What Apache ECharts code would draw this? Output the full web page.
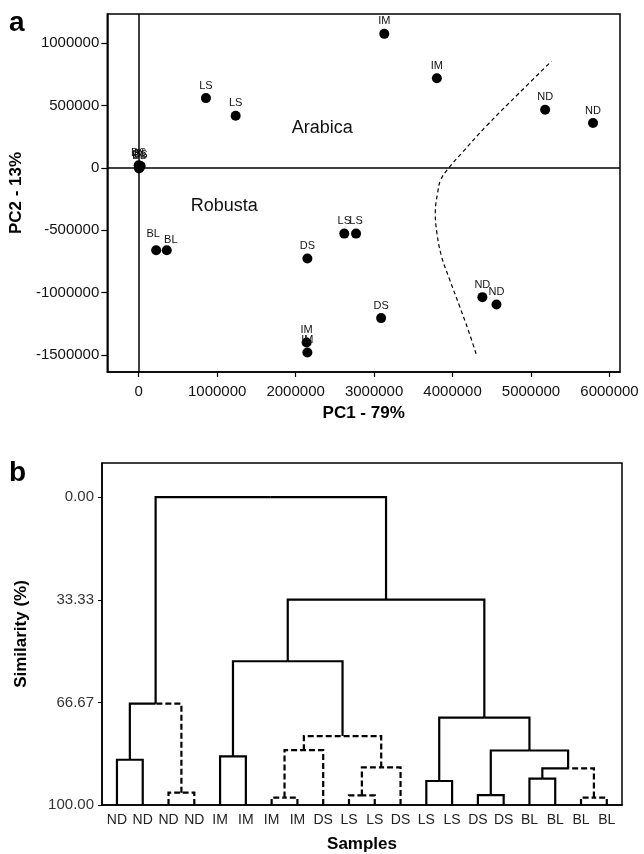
<!DOCTYPE html>
<html>
<head>
<meta charset="utf-8">
<script src="https://cdn.jsdelivr.net/npm/echarts@6/dist/echarts.min.js"></script>
<style>
html, body { margin: 0; padding: 0; background: #fff; }
#main { width: 644px; height: 854px; }
</style>
</head>
<body>
<div id="main"></div>
<script>
// panel a: PCA scores
var pcaLabels = ["IM", "IM", "LS", "LS", "ND", "ND", "DS", "DS", "BL", "BL",
                 "BL", "BL", "DS", "LS", "LS", "ND", "ND", "DS", "IM", "IM"];
var pc1 = [3130000, 3800000, 857000, 1236000, 5180000, 5790000, 0, 15000, 25000, 5000,
           223000, 358000, 2150000, 2620000, 2770000, 4380000, 4560000, 3090000, 2140000, 2150000];
var pc2 = [1074000, 718000, 559000, 418000, 465000, 359000, 20000, 5000, 15000, -5000,
           -660000, -660000, -727000, -527000, -527000, -1036000, -1095000, -1204000, -1400000, -1480000];

// dashed separation curve
var curvePc1 = [4300000, 4200000, 4090000, 3960000, 3860000, 3800000, 3780000, 3810000,
                3850000, 3940000, 4120000, 4430000, 4850000, 5260000];
var curvePc2 = [-1490000, -1300000, -1110000, -890000, -710000, -520000, -360000, -200000,
                -95000, -10000, 120000, 335000, 600000, 854000];

var groupNames = ["Arabica", "Robusta"];
var groupPc1 = [2340000, 1090000];
var groupPc2 = [320000, -305000];

var pc1Ticks = [0, 1000000, 2000000, 3000000, 4000000, 5000000, 6000000];
var pc2Ticks = [-1500000, -1000000, -500000, 0, 500000, 1000000];

// panel b: dendrogram
var leafNames = ["ND", "ND", "ND", "ND", "IM", "IM", "IM", "IM", "DS", "LS",
                 "LS", "DS", "LS", "LS", "DS", "DS", "BL", "BL", "BL", "BL"];
// merges: node 20 onwards, [child, child]
var mergePairs = [[0, 1], [2, 3], [20, 21], [4, 5], [6, 7], [24, 8], [9, 10], [26, 11],
                  [25, 27], [23, 28], [12, 13], [14, 15], [16, 17], [18, 19], [32, 33],
                  [31, 34], [30, 35], [29, 36], [22, 37]];
var mergeSimilarity = [85.3, 96.0, 67.1, 84.2, 97.6, 82.2, 96.9, 87.8,
                       77.6, 53.3, 92.2, 96.8, 91.4, 97.6, 88.1,
                       82.3, 71.6, 33.3, 0];
var similarityTicks = [0, 33.33, 66.67, 100];

// links drawn dashed (node -> parent)
var dashedNodes = [2, 3, 21, 6, 7, 24, 8, 25, 9, 10, 26, 11, 27, 18, 19, 33];

// label nudges for overlapping point labels
var labelNudge = { 10: [-3, -4], 11: [4, 2] };

/* build dendrogram link segments */
var nodeX = leafNames.map(function (n, i) { return i; });
var nodeH = leafNames.map(function () { return 100; });
var parent = [];
mergePairs.forEach(function (p, k) {
    var id = leafNames.length + k;
    nodeX[id] = (nodeX[p[0]] + nodeX[p[1]]) / 2;
    nodeH[id] = mergeSimilarity[k];
    parent[p[0]] = id;
    parent[p[1]] = id;
});
var links = [];
for (var i = 0; i < nodeX.length; i++) {
    if (parent[i] === undefined) continue;
    var p = parent[i];
    links.push([nodeX[i], nodeH[i], nodeX[p], nodeH[p], dashedNodes.indexOf(i) >= 0 ? 1 : 0]);
}

var font = "'Liberation Sans', Arial, sans-serif";
var axisBlack = { show: true, onZero: false, lineStyle: { color: "#000", width: 1.5 } };

var option = {
    animation: false,
    textStyle: { fontFamily: font },
    graphic: [
        { type: "text", left: 9, top: 9, style: { text: "a", font: "bold 28px " + font, fill: "#000" } },
        { type: "text", left: 9, top: 459, style: { text: "b", font: "bold 28px " + font, fill: "#000" } }
    ],
    grid: [
        { left: 103, top: 14, width: 517, height: 358, show: true, borderColor: "#000", borderWidth: 1.5 },
        { left: 102, top: 463, width: 520, height: 344, show: true, borderColor: "#000", borderWidth: 1.5 }
    ],
    xAxis: [
        {
            gridIndex: 0, type: "value", min: -400000, max: 6134000,
            name: "PC1 - 79%", nameLocation: "middle", nameGap: 33,
            nameTextStyle: { fontSize: 17, fontWeight: "bold", color: "#000" },
            axisLine: axisBlack,
            axisTick: { show: true, length: 5, customValues: pc1Ticks, lineStyle: { color: "#000", width: 1.2 } },
            axisLabel: { customValues: pc1Ticks, margin: 12, fontSize: 15, color: "#111",
                         formatter: function (v) { return String(v); } },
            splitLine: { show: false }
        },
        {
            gridIndex: 1, type: "value", min: -0.58, max: 19.59,
            name: "Samples", nameLocation: "middle", nameGap: 31,
            nameTextStyle: { fontSize: 17, fontWeight: "bold", color: "#000" },
            axisLine: axisBlack,
            axisTick: { show: false },
            axisLabel: { customValues: leafNames.map(function (n, i) { return i; }), margin: 8,
                         fontSize: 14, color: "#222",
                         formatter: function (v) { return leafNames[Math.round(v)]; } },
            splitLine: { show: false }
        }
    ],
    yAxis: [
        {
            gridIndex: 0, type: "value", min: -1636000, max: 1233000,
            name: "PC2 - 13%", nameLocation: "middle", nameGap: 72, nameRotate: 90,
            nameTextStyle: { fontSize: 17, fontWeight: "bold", color: "#000" },
            axisLine: axisBlack,
            axisTick: { show: true, length: 6, customValues: pc2Ticks, lineStyle: { color: "#000", width: 1.2 } },
            axisLabel: { customValues: pc2Ticks, margin: 8, fontSize: 15, color: "#111",
                         formatter: function (v) { return String(v); } },
            splitLine: { show: false }
        },
        {
            gridIndex: 1, type: "value", min: -11.1, max: 100, inverse: true,
            name: "Similarity (%)", nameLocation: "middle", nameGap: 72, nameRotate: 90,
            nameTextStyle: { fontSize: 17, fontWeight: "bold", color: "#000" },
            axisLine: axisBlack,
            axisTick: { show: true, length: 4, customValues: similarityTicks, lineStyle: { color: "#000" } },
            axisLabel: { customValues: similarityTicks, margin: 8, fontSize: 15, color: "#333",
                         formatter: function (v) { return v.toFixed(2); } },
            splitLine: { show: false }
        }
    ],
    series: [
        {
            type: "line",
            xAxisIndex: 0, yAxisIndex: 0,
            data: curvePc1.map(function (x, i) { return [x, curvePc2[i]]; }),
            smooth: 0.4,
            symbol: "none",
            lineStyle: { color: "#000", width: 1.2, type: [4, 3] },
            silent: true,
            z: 2
        },
        {
            type: "scatter",
            xAxisIndex: 0, yAxisIndex: 0,
            data: pc1.map(function (x, i) {
                var item = { value: [x, pc2[i]], name: pcaLabels[i] };
                if (labelNudge[i]) item.label = { offset: labelNudge[i] };
                return item;
            }),
            symbolSize: 10,
            itemStyle: { color: "#000", opacity: 1 },
            label: { show: true, position: "top", distance: 2, fontSize: 11, color: "#111",
                     formatter: function (p) { return p.name; } },
            markLine: {
                silent: true,
                symbol: "none",
                label: { show: false },
                lineStyle: { color: "#000", width: 1.5, type: "solid" },
                data: [{ xAxis: 0 }, { yAxis: 0 }]
            },
            z: 3
        },
        {
            type: "scatter",
            xAxisIndex: 0, yAxisIndex: 0,
            data: groupNames.map(function (n, i) { return { value: [groupPc1[i], groupPc2[i]], name: n }; }),
            symbolSize: 0,
            itemStyle: { opacity: 1 },
            label: { show: true, position: "inside", fontSize: 18, color: "#111",
                     formatter: function (p) { return p.name; } },
            silent: true
        },
        {
            type: "custom",
            xAxisIndex: 1, yAxisIndex: 1,
            data: links,
            clip: false,
            silent: true,
            encode: { x: [0, 2], y: [1, 3] },
            renderItem: function (params, api) {
                var a = api.coord([api.value(0), api.value(1)]);
                var b = api.coord([api.value(0), api.value(3)]);
                var c = api.coord([api.value(2), api.value(3)]);
                return {
                    type: "polyline",
                    shape: { points: [a, b, c] },
                    style: {
                        stroke: "#000", lineWidth: 2.2, fill: null,
                        lineDash: api.value(4) ? [6, 3] : null
                    }
                };
            }
        }
    ]
};

var myChart = echarts.init(document.getElementById("main"), null, { renderer: "canvas" });
myChart.setOption(option);
</script>
</body>
</html>
